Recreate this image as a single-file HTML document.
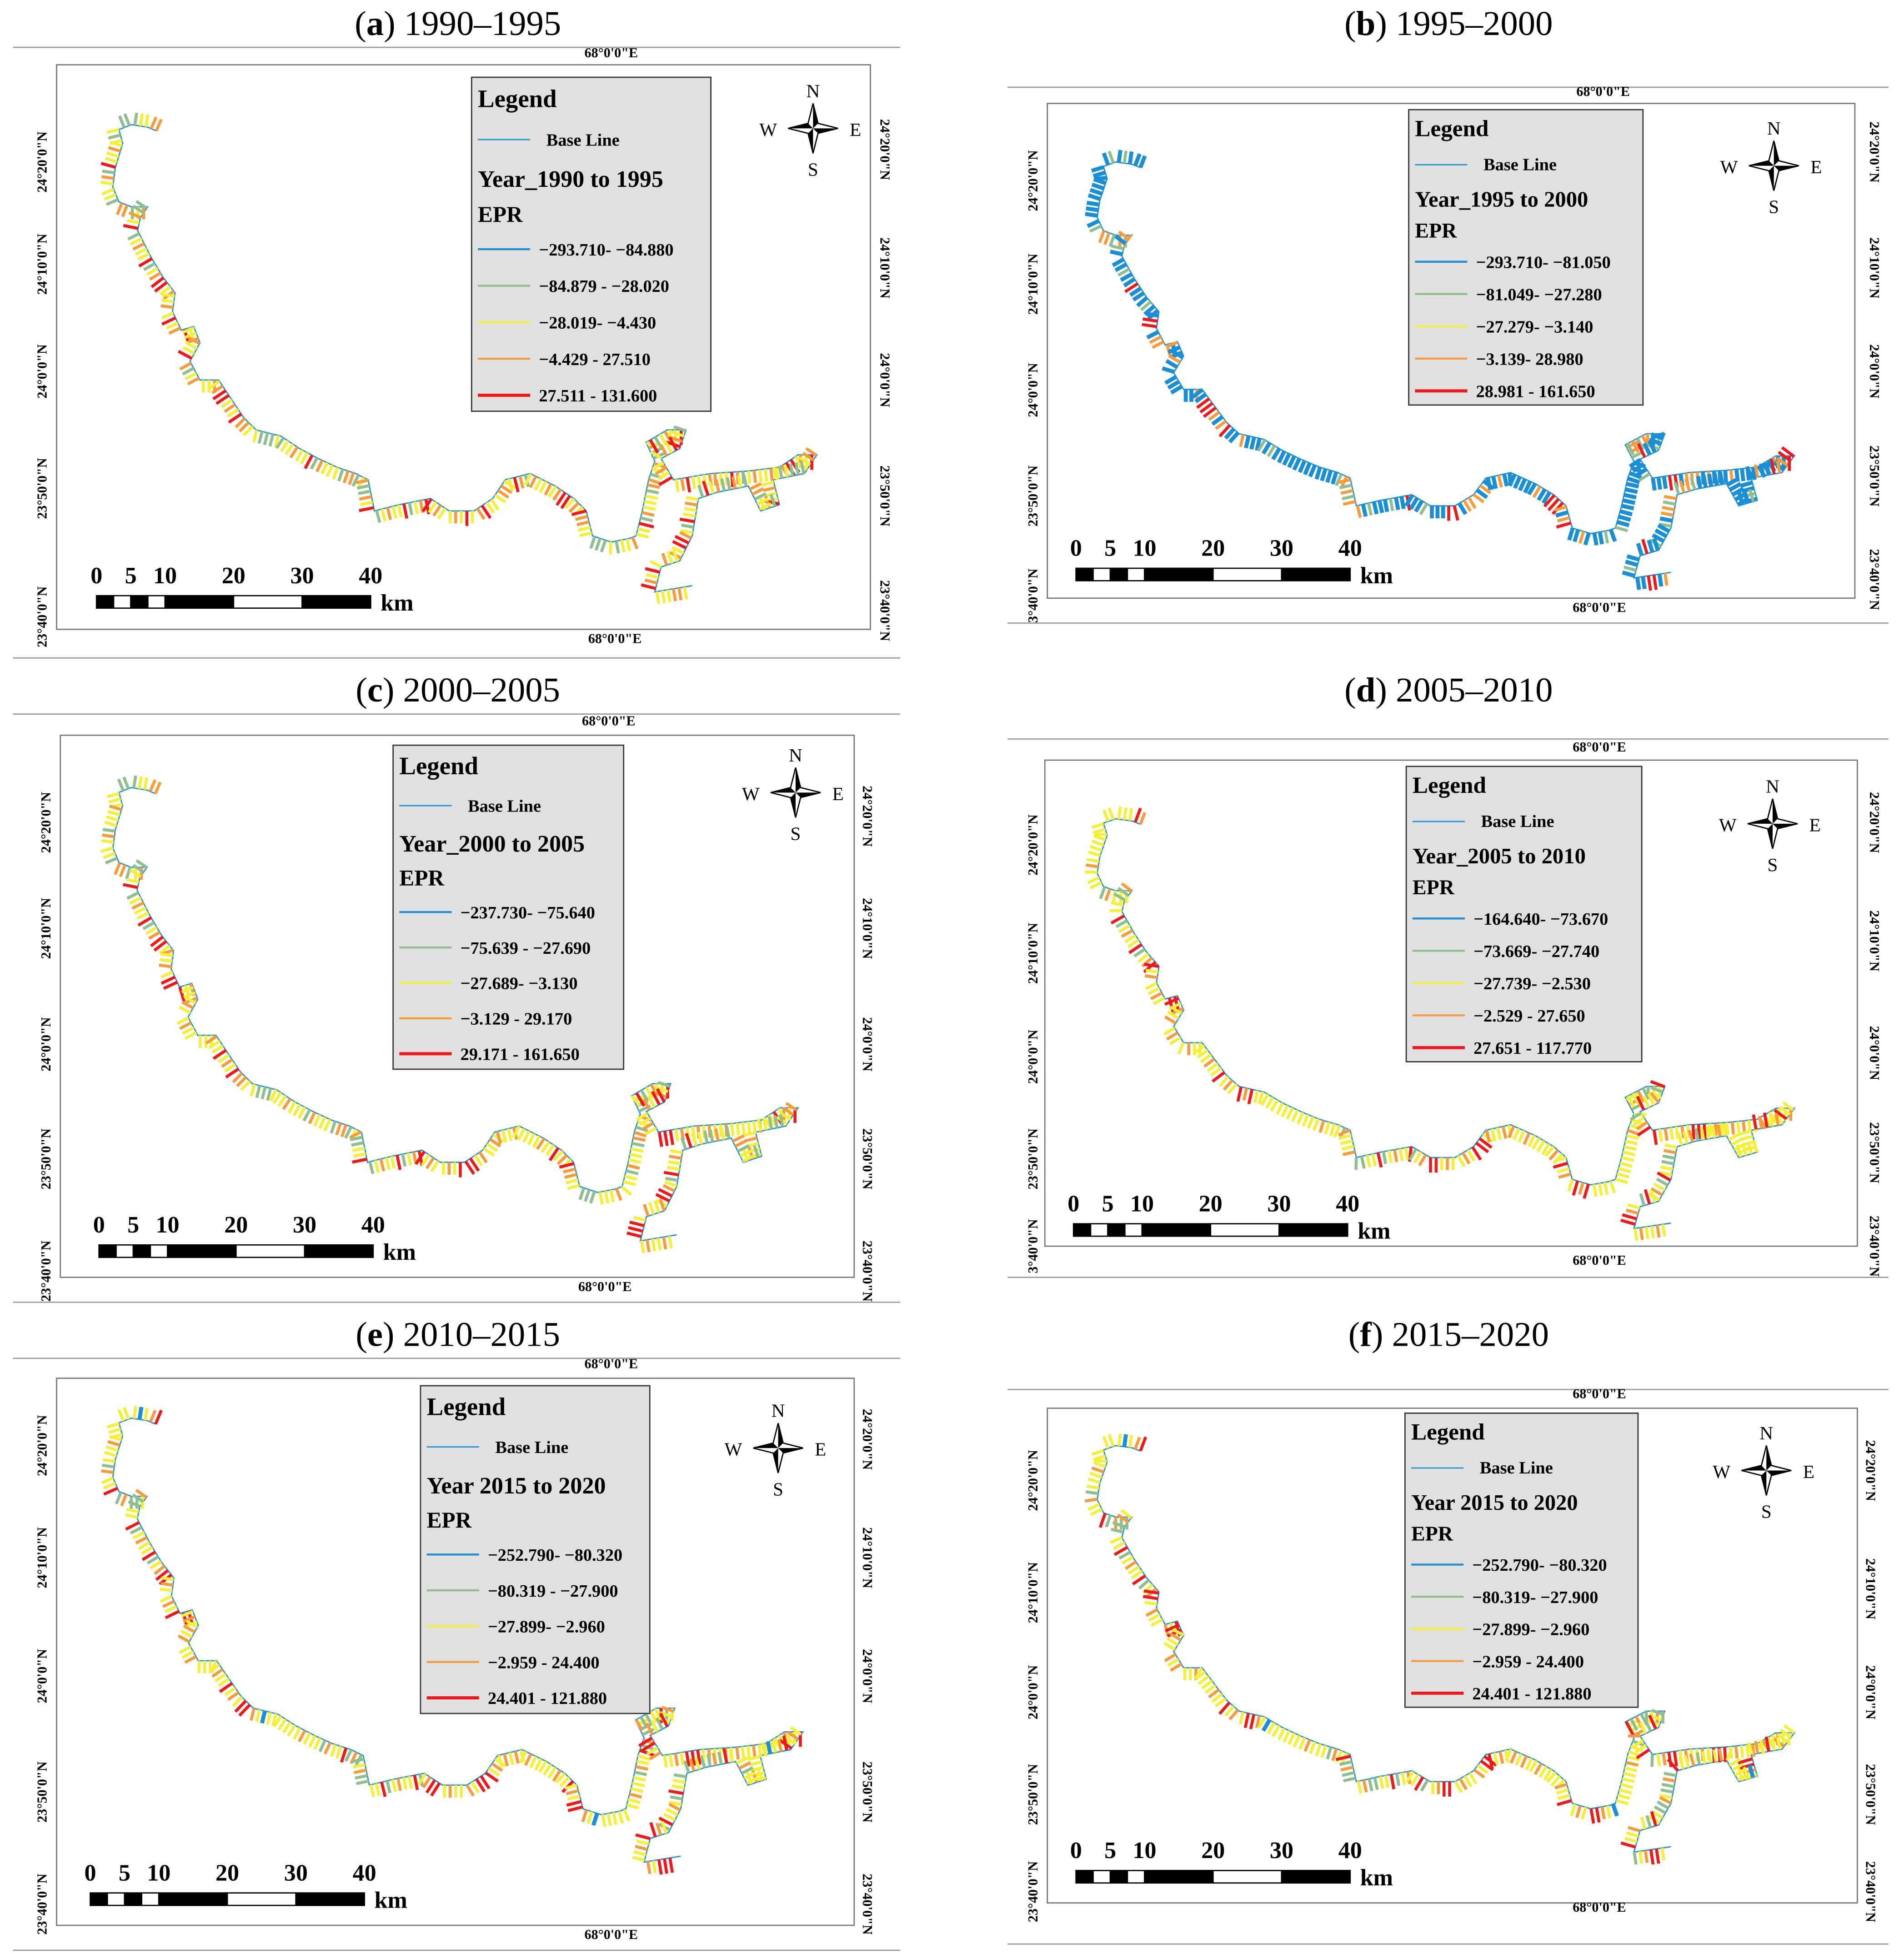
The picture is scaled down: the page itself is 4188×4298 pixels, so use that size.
<!DOCTYPE html>
<html><head><meta charset="utf-8"><style>
html,body{margin:0;padding:0;background:#fff}
svg{display:block}
text{font-family:"Liberation Serif",serif}
</style></head><body>
<svg id="s" width="4188" height="4298" viewBox="0 0 1527 1568" xmlns="http://www.w3.org/2000/svg"></svg>
<script>
const NS="http://www.w3.org/2000/svg";
const svg=document.getElementById('s');
const coastX=[125,118,105,95,98,92,90,95,105,118,112,110,120,130,140,138,145,155,160,152,160,175,185,195,205,225,240,255,270,285,295,300,320,345,360,380,395,405,425,445,460,470,475,490,505,510,515,520,525,518,535,550,545,530,540,570,600,625,640,655,645,620,625,610,600,575,560,555,545,530,525,555];
const coastY=[105,102,100,104,115,135,150,162,166,166,175,185,205,222,235,250,265,262,275,290,305,305,320,335,345,350,360,368,375,380,385,410,405,400,410,410,400,385,380,390,400,410,430,435,432,430,410,385,370,355,345,345,360,368,385,380,378,375,365,365,380,385,405,410,390,395,400,430,450,455,475,470];
const panels=[
 {id:'a',title:'1990–1995',tx:367,ty:20,line:[10,722,38],fr:[45,52,698,505],tr:[95,100,1,1],lg:[378,62,192,268],yr:'Year_1990 to 1995',
  ranges:['−293.710- −84.880','−84.879 - −28.020','−28.019- −4.430','−4.429 - 27.510','27.511 - 131.600'],codes:'ooyygggygyyoyyrgoyyygoogyoggoyrgyoyyrgyorryoyyoyryoryyyooyyrogyoyyoyorryoyr',
  na:[652,103],sb:[77,483],top:[490,46],bot:[493,516],lat:[[37,130,"24°20'0\"N"],[37,212,"24°10'0\"N"],[37,298,"24°0'0\"N"],[37,392,"23°50'0\"N"],[37,495,"23°40'0\"N"]],latR:[706,[120,215,305,398,490]],hline:[10,722,528]},
 {id:'b',title:'1995–2000',tx:1162,ty:20,line:[808,1515,70],fr:[840,83,1488,480],tr:[885,130,0.99,0.89],lg:[1130,88,188,237],yr:'Year_1995 to 2000',
  ranges:['−293.710- −81.050','−81.049- −27.280','−27.279- −3.140','−3.139- 28.980','28.981 - 161.650'],codes:'bbbgbgbbbbbbbbbbbbgoogogoobgbbbgbbrbbbgbbbrrbooobobbbobbbbbbbobbrrroborbbo',
  na:[1423,133],sb:[863,461],top:[1286,77],bot:[1283,491],lat:[[832,145,"24°20'0\"N"],[832,228,"24°10'0\"N"],[832,313,"24°0'0\"N"],[832,398,"23°50'0\"N"],[832,478,"3°40'0\"N"]],latR:[1500,[122,215,298,382,465]],hline:[808,1515,500]},
 {id:'c',title:'2000–2005',tx:367,ty:555,line:[10,722,573],fr:[48,590,685,1025],tr:[95,632,0.973,0.97],lg:[315,598,185,260],yr:'Year_2000 to 2005',
  ranges:['−237.730- −75.640','−75.639 - −27.690','−27.689- −3.130','−3.129 - 29.170','29.171 - 161.650'],codes:'ooyygggyyyoyyygoyyygoogyoggyyrgyoyyrgyorryoyyoyrrryoyyoyoyyoyyyyyoyyryoyr',
  na:[638,636],sb:[79,1004],top:[488,582],bot:[485,1036],lat:[[40,660,"24°20'0\"N"],[40,745,"24°10'0\"N"],[40,838,"24°0'0\"N"],[40,930,"23°50'0\"N"],[40,1020,"23°40'0\"N"]],latR:[692,[655,745,838,930,1020]],hline:[10,722,1045]},
 {id:'d',title:'2005–2010',tx:1162,ty:555,line:[808,1515,593],fr:[838,610,1490,1000],tr:[885,657,0.99,0.877],lg:[1128,615,189,237],yr:'Year_2005 to 2010',
  ranges:['−164.640- −73.670','−73.669- −27.740','−27.739- −2.530','−2.529 - 27.650','27.651 - 117.770'],codes:'oryyyyyyyyyyyyyoyyygoyyyoggyyrgyoyyrgyorryoyyoyrrryoyyoyoyyoyyyyyoyyryoyr',
  na:[1422,661],sb:[861,987],top:[1283,603],bot:[1283,1015],lat:[[832,678,"24°20'0\"N"],[832,765,"24°10'0\"N"],[832,848,"24°0'0\"N"],[832,930,"23°50'0\"N"],[832,1000,"3°40'0\"N"]],latR:[1500,[660,755,845,925,1000]],hline:[808,1515,1025]},
 {id:'e',title:'2010–2015',tx:367,ty:1072,line:[10,722,1090],fr:[45,1106,685,1545],tr:[95,1138,0.98,0.95],lg:[337,1112,184,263],yr:'Year 2015 to 2020',
  ranges:['−252.790- −80.320','−80.319 - −27.900','−27.899- −2.960','−2.959 - 24.400','24.401 - 121.880'],codes:'roybyyyyyyyoyyygoyyrgoggyoggyyrgyoyyrgyorryoyyoyrrryoyyoyoyyoyyyyyoyyryoyr',
  na:[624,1162],sb:[72,1524],top:[490,1098],bot:[490,1556],lat:[[37,1160,"24°20'0\"N"],[37,1250,"24°10'0\"N"],[37,1345,"24°0'0\"N"],[37,1438,"23°50'0\"N"],[37,1528,"23°40'0\"N"]],latR:[692,[1155,1250,1345,1438,1528]],hline:[10,722,1565]},
 {id:'f',title:'2015–2020',tx:1162,ty:1072,line:[808,1515,1115],fr:[840,1130,1490,1527],tr:[885,1160,0.99,0.87],lg:[1127,1134,187,236],yr:'Year 2015 to 2020',
  ranges:['−252.790- −80.320','−80.319- −27.900','−27.899- −2.960','−2.959 - 24.400','24.401 - 121.880'],codes:'roybyyyyyyyoyyygoyyrgoggyoggyyrgyoyyrgyorryoyyoyrrryoyyoyoyyoyyyyyoyyryoyr',
  na:[1417,1180],sb:[863,1506],top:[1283,1122],bot:[1283,1534],lat:[[832,1188,"24°20'0\"N"],[832,1278,"24°10'0\"N"],[832,1358,"24°0'0\"N"],[832,1440,"23°50'0\"N"],[832,1518,"23°40'0\"N"]],latR:[1497,[1180,1275,1358,1440,1518]],hline:[808,1515,1560]}
];
const colorMap={b:'#1a8fd6',g:'#8fbf8f',y:'#f4f03a',o:'#f99b3a',r:'#f01818'};
const legendCols=['#1a8fd6','#8fbf8f','#f4f03a','#f99b3a','#f01818'];
function el(tag,attrs,parent,txt){const e=document.createElementNS(NS,tag);for(const k in attrs)e.setAttribute(k,attrs[k]);if(txt!==undefined)e.textContent=txt;(parent||svg).appendChild(e);return e;}
panels.forEach(p=>{
 const g=el('g',{});
 
 
 const t=el('text',{x:p.tx,y:p.ty+8,'text-anchor':'middle','font-size':28},g);
 
 
 el('tspan',{},t,'(');el('tspan',{'font-weight':'bold'},t,p.id);el('tspan',{},t,') '+p.title);
 el('line',{x1:p.line[0],x2:p.line[1],y1:p.line[2],y2:p.line[2],stroke:'#999','stroke-width':1},g);
 el('line',{x1:p.hline[0],x2:p.hline[1],y1:p.hline[2],y2:p.hline[2],stroke:'#999','stroke-width':1},g);
 const f=el('rect',{x:p.fr[0],y:p.fr[1],width:p.fr[2]-p.fr[0],height:p.fr[3]-p.fr[1],fill:'#fff',stroke:'#777','stroke-width':1},g);
 
 
 const [tx,ty,sx,sy]=p.tr;
 const pts=coastX.map((x,i)=>[tx+(x-95)*sx,ty+(coastY[i]-100)*sy]);
 const cp=el('path',{d:'M'+pts.map(q=>q.join(',')).join(' L'),fill:'none',stroke:'#1a8fd6','stroke-width':1},g);
 
 
 const len=cp.getTotalLength();const step=4.5;const n=Math.floor(len/step);
 for(let i=0;i<n;i++){
  const c=p.codes[i%p.codes.length];
  const L=i*step, a=cp.getPointAtLength(L), b=cp.getPointAtLength(Math.min(len,L+1));
  let dx=b.x-a.x,dy=b.y-a.y;const m=Math.hypot(dx,dy)||1;const nx=-dy/m,ny=dx/m;
  const tl=(c==='r'?12:10);
  const tk=el('line',{x1:a.x,y1:a.y,x2:a.x+nx*tl,y2:a.y+ny*tl,stroke:colorMap[c],'stroke-width':c==='b'?3.2:2.4},g);
  
  
 }
 const [lx,ly,lw,lh]=p.lg;
 const lgg=el('g',{},g);
 
 
 el('rect',{x:lx,y:ly,width:lw,height:lh,fill:'#e0e0e0',stroke:'#333','stroke-width':1},lgg);
 const sc=lh/268;
 el('text',{x:lx+5,y:ly+24*sc,'font-size':20*Math.min(1,sc+0.05),'font-weight':'bold'},lgg,'Legend');
 el('line',{x1:lx+5,x2:lx+47,y1:ly+50*sc,y2:ly+50*sc,stroke:'#1a8fd6','stroke-width':1},lgg);
 el('text',{x:lx+60,y:ly+55*sc,'font-size':14,'font-weight':'bold'},lgg,'Base Line');
 el('text',{x:lx+5,y:ly+88*sc,'font-size':19*Math.min(1,sc+0.05),'font-weight':'bold'},lgg,p.yr);
 el('text',{x:lx+5,y:ly+116*sc,'font-size':18*Math.min(1,sc+0.05),'font-weight':'bold'},lgg,'EPR');
 p.ranges.forEach((r,i)=>{
  const yy=ly+(138+i*29.3)*sc;
  el('line',{x1:lx+5,x2:lx+47,y1:yy,y2:yy,stroke:legendCols[i],'stroke-width':i===4?2.5:1.6},lgg);
  el('text',{x:lx+54,y:yy+5,'font-size':14,'font-weight':'bold'},lgg,r);
 });
 const [nx0,ny0]=p.na;
 const na=el('g',{},g);
 
 
 // white outline star then black halves
 el('polygon',{points:`${nx0},${ny0-20} ${nx0+4},${ny0-4} ${nx0+20},${ny0} ${nx0+4},${ny0+4} ${nx0},${ny0+20} ${nx0-4},${ny0+4} ${nx0-20},${ny0} ${nx0-4},${ny0-4}`,fill:'#fff',stroke:'#000','stroke-width':1},na);
 el('polygon',{points:`${nx0},${ny0-20} ${nx0+4},${ny0-4} ${nx0},${ny0}`,fill:'#000'},na);
 el('polygon',{points:`${nx0+20},${ny0} ${nx0+4},${ny0+4} ${nx0},${ny0}`,fill:'#000'},na);
 el('polygon',{points:`${nx0},${ny0+20} ${nx0-4},${ny0+4} ${nx0},${ny0}`,fill:'#000'},na);
 el('polygon',{points:`${nx0-20},${ny0} ${nx0-4},${ny0-4} ${nx0},${ny0}`,fill:'#000'},na);
 [['N',0,-25],['S',0,38],['E',34,6],['W',-36,6]].forEach(d=>el('text',{x:nx0+d[1],y:ny0+d[2],'text-anchor':'middle','font-size':15,'font-family':'Liberation Sans'},na,d[0]));
 const [sbx,sby]=p.sb;
 const sb=el('g',{},g);
 
 
 const u=5.5;
 const segs=[[0,2.5,'#000'],[2.5,5,'#fff'],[5,7.5,'#000'],[7.5,10,'#fff'],[10,20,'#000'],[20,30,'#fff'],[30,40,'#000']];
 segs.forEach(s=>el('rect',{x:sbx+s[0]*u,y:sby-5,width:(s[1]-s[0])*u,height:10,fill:s[2],stroke:'#000','stroke-width':1},sb));
 [0,5,10,20,30,40].forEach(v=>el('text',{x:sbx+v*u,y:sby-15,'text-anchor':'middle','font-size':19,'font-weight':'bold'},sb,String(v)));
 el('text',{x:sbx+40*u+8,y:sby+7,'font-size':19,'font-weight':'bold'},sb,'km');
 el('text',{x:p.top[0],y:p.top[1],'text-anchor':'middle','font-size':11,'font-weight':'bold'},g,"68°0'0\"E");
 el('text',{x:p.bot[0],y:p.bot[1],'text-anchor':'middle','font-size':11,'font-weight':'bold'},g,"68°0'0\"E");
 p.lat.forEach(l=>el('text',{x:l[0],y:l[1],'text-anchor':'middle','font-size':11,'font-weight':'bold',transform:`rotate(-90 ${l[0]} ${l[1]})`},g,l[2]));
 const rl=["24°20'0\"N","24°10'0\"N","24°0'0\"N","23°50'0\"N","23°40'0\"N"];
 p.latR[1].forEach((yy,i)=>el('text',{x:p.latR[0],y:yy,'text-anchor':'middle','font-size':11,'font-weight':'bold',transform:`rotate(90 ${p.latR[0]} ${yy})`},g,rl[i]));
});
</script>
</body></html>
